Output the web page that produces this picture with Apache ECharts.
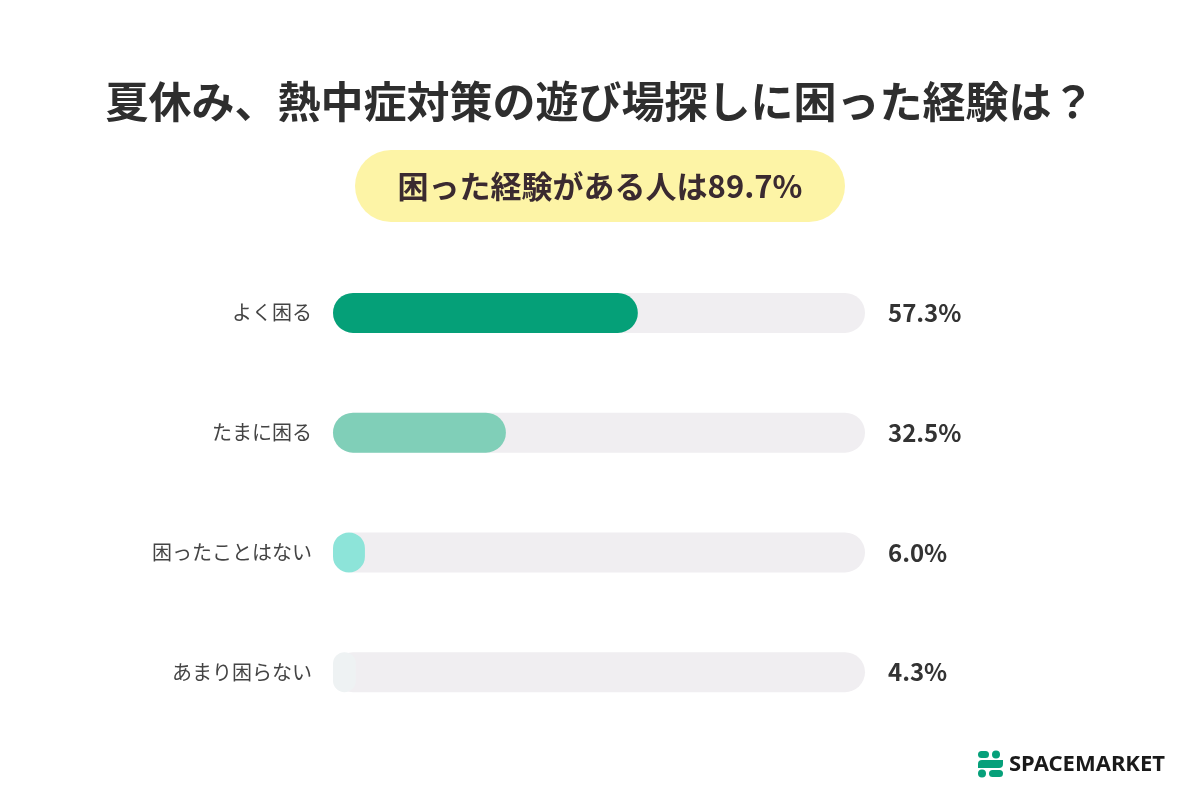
<!DOCTYPE html>
<html>
<head>
<meta charset="utf-8">
<script src="https://cdn.jsdelivr.net/npm/echarts@6/dist/echarts.min.js"></script>
<style>
  html, body { margin: 0; padding: 0; background: #fff; }
  #main { width: 1200px; height: 800px; }
</style>
</head>
<body>
<div id="main"></div>
<script>
// 回答の項目と割合(%)
const categories = ["よく困る", "たまに困る", "困ったことはない", "あまり困らない"];
const values = [57.3, 32.5, 6.0, 4.3];
const barColors = ["#05a078", "#80cfb8", "#8de4d9", "#eef2f3"];

const chartDom = document.getElementById("main");
const myChart = echarts.init(chartDom);
const FONT = "'Noto Sans CJK JP', 'Noto Sans', sans-serif";

const option = {
  backgroundColor: "#ffffff",
  title: {
    text: "夏休み、熱中症対策の遊び場探しに困った経験は？",
    left: "center",
    top: 75,
    textStyle: { fontFamily: FONT, fontSize: 43, fontWeight: "bold", color: "#2e2e2e" }
  },
  grid: { left: 333, right: 335, top: 253, bottom: 68 },
  xAxis: { type: "value", min: 0, max: 100, show: false },
  yAxis: [
    {
      type: "category",
      inverse: true,
      data: categories,
      axisLine: { show: false },
      axisTick: { show: false },
      axisLabel: { margin: 21, fontFamily: FONT, fontSize: 20, color: "#444" }
    },
    {
      // 右側の割合ラベル
      type: "category",
      inverse: true,
      position: "right",
      data: values.map(v => v.toFixed(1) + "%"),
      axisLine: { show: false },
      axisTick: { show: false },
      axisLabel: { margin: 23, fontFamily: FONT, fontSize: 24, fontWeight: "bold", color: "#333" }
    }
  ],
  series: [
    {
      type: "bar",
      data: values.map((v, i) => ({ value: v, itemStyle: { color: barColors[i] } })),
      barWidth: 40,
      itemStyle: { borderRadius: 20 },
      showBackground: true,
      backgroundStyle: { color: "#f0eef1", borderRadius: 20 }
    }
  ],
  graphic: [
    {
      type: "rect",
      shape: { x: 355, y: 150, width: 490, height: 72, r: 36 },
      style: { fill: "#fdf4a6" }
    },
    {
      type: "text",
      x: 600, y: 186,
      style: {
        text: "困った経験がある人は89.7%",
        font: "bold 31px " + FONT,
        fill: "#3a2a30",
        align: "center",
        verticalAlign: "middle"
      }
    },
    // ロゴ
    { type: "rect", shape: { x: 978, y: 751, width: 11, height: 7, r: 3.5 }, style: { fill: "#06a07a" } },
    { type: "circle", shape: { cx: 996, cy: 754.5, r: 4 }, style: { fill: "#06a07a" } },
    { type: "rect", shape: { x: 978, y: 760, width: 25, height: 8, r: [4, 0, 4, 0] }, style: { fill: "#06a07a" } },
    { type: "circle", shape: { cx: 982, cy: 773.5, r: 4 }, style: { fill: "#06a07a" } },
    { type: "rect", shape: { x: 989, y: 770, width: 14, height: 7, r: 3.5 }, style: { fill: "#06a07a" } },
    {
      type: "text",
      x: 1009, y: 765,
      style: {
        text: "SPACEMARKET",
        font: "bold 22px 'Noto Sans', sans-serif",
        fill: "#1a1a1a",
        verticalAlign: "middle"
      }
    }
  ]
};

option && myChart.setOption(option);
</script>
</body>
</html>
